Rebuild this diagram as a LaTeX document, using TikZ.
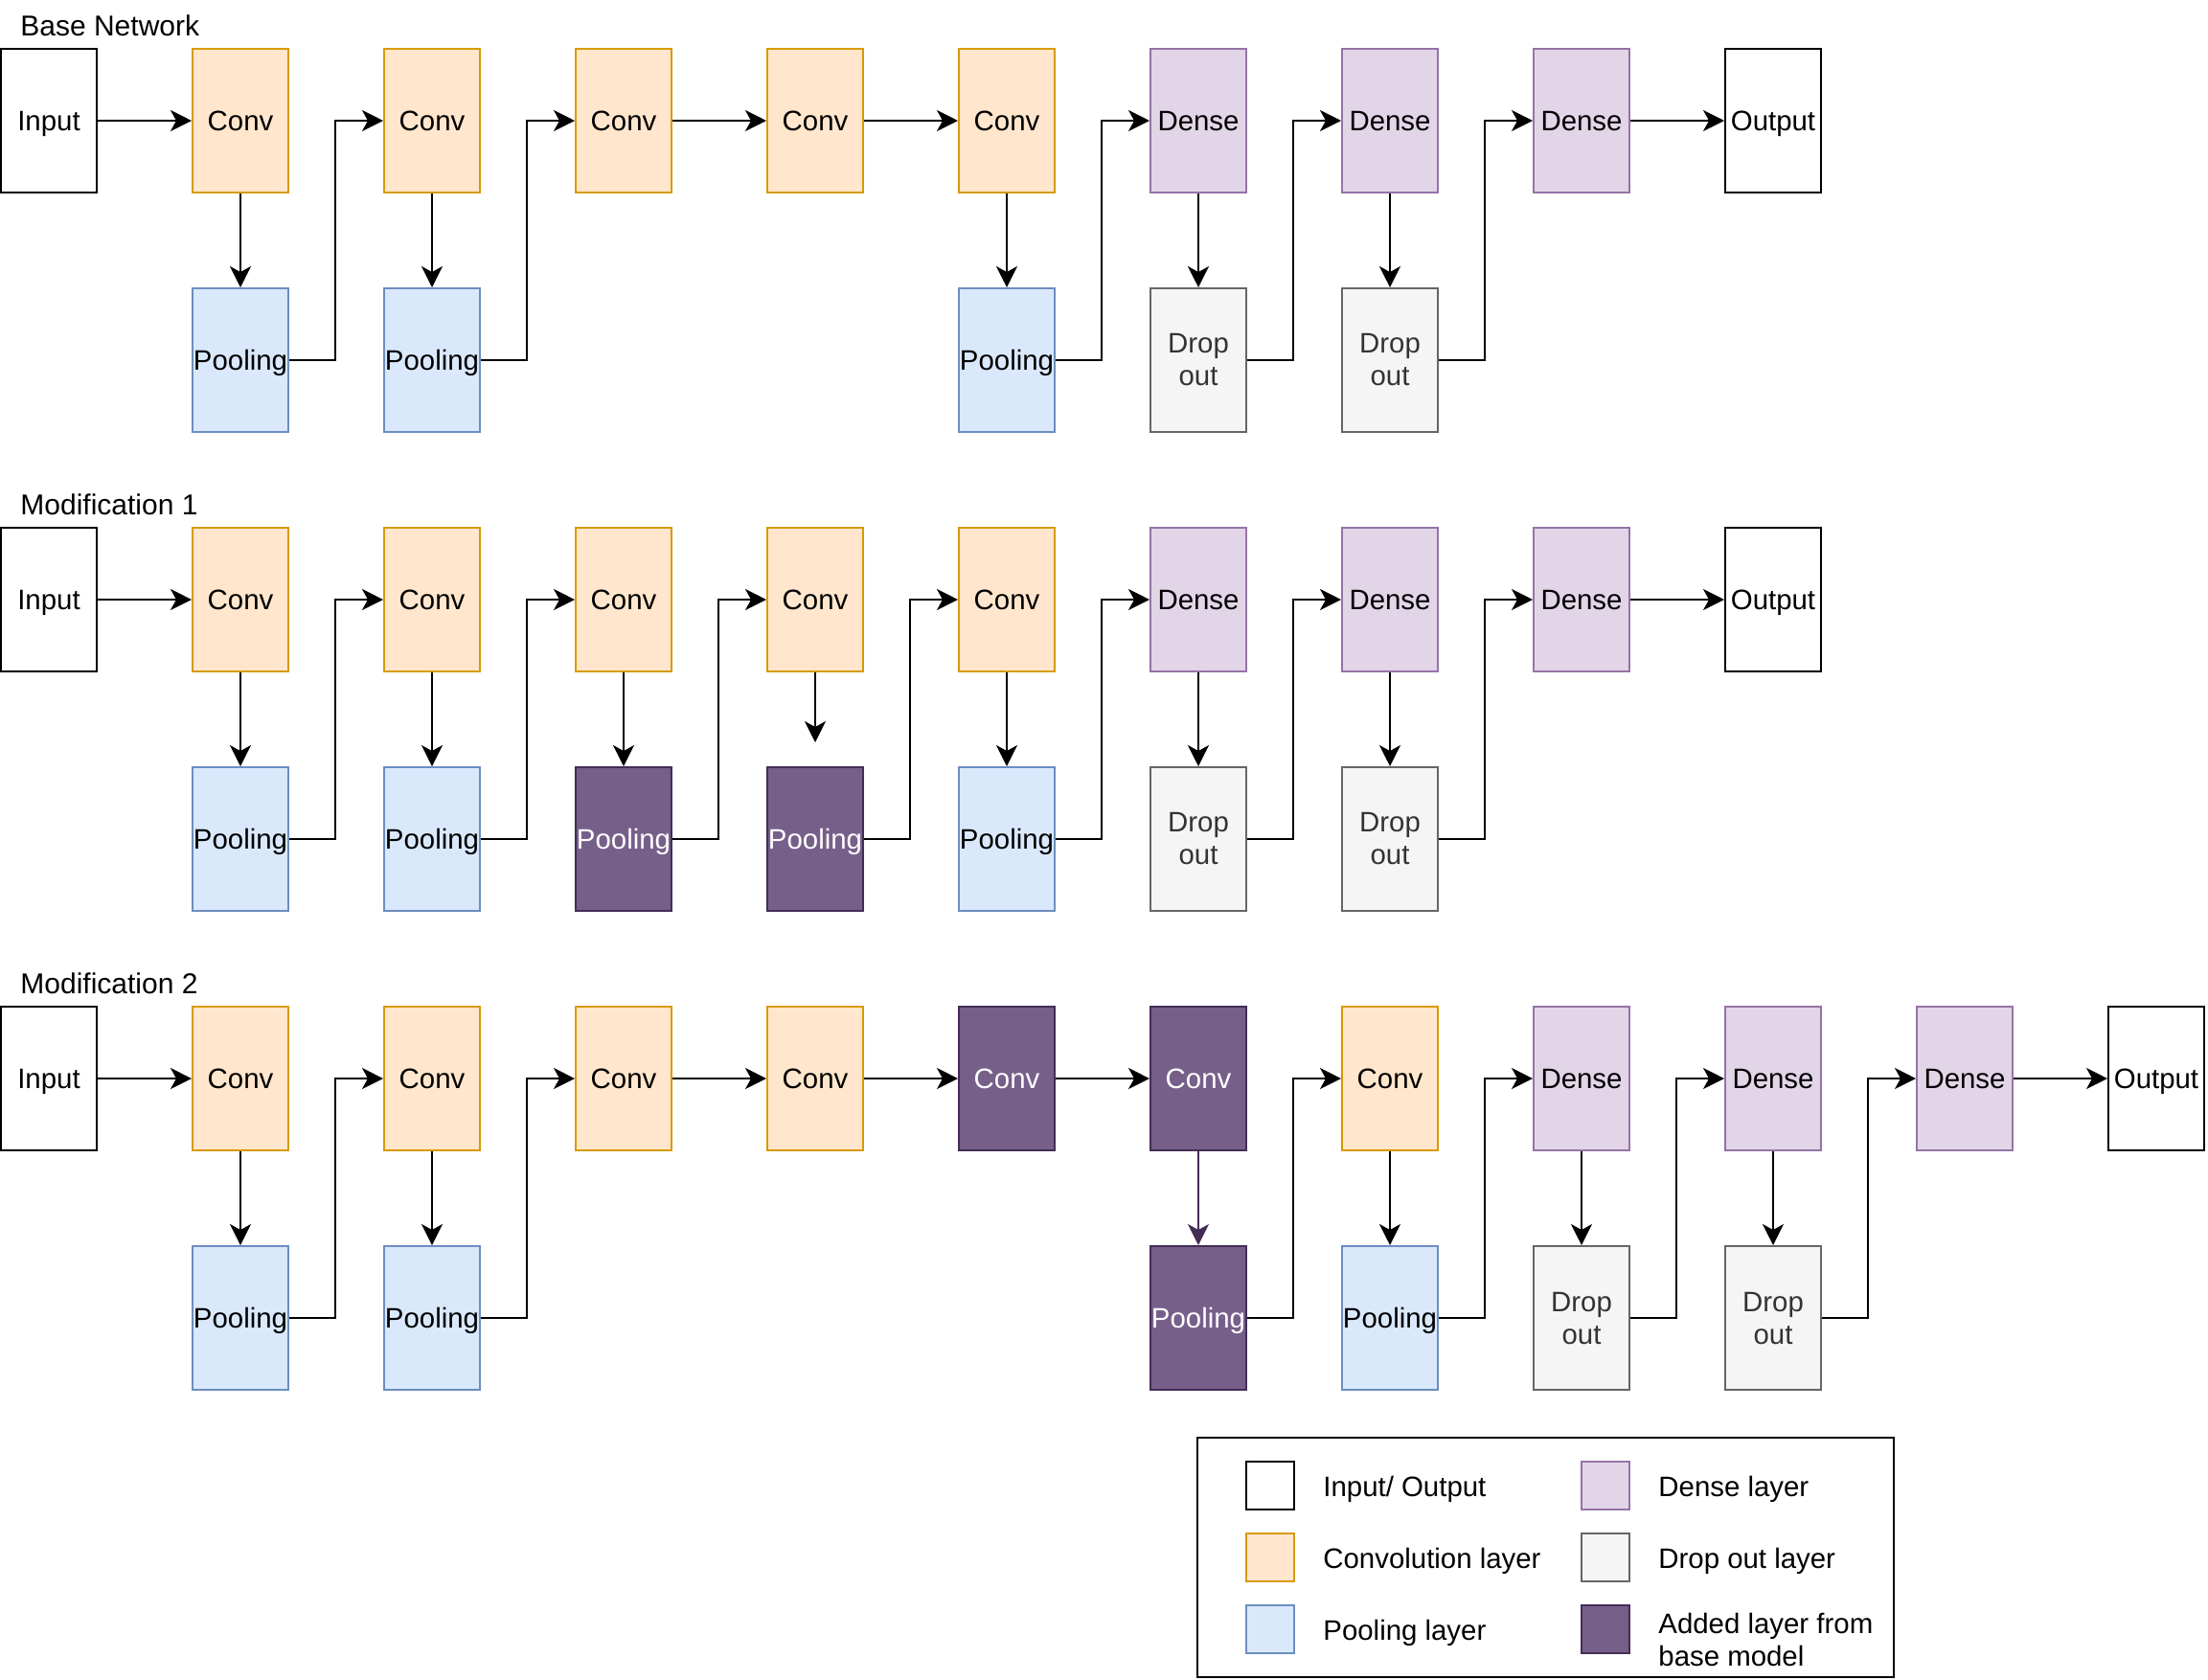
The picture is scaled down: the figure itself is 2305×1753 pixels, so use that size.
\documentclass[tikz,border=0pt]{standalone}
\usepackage{fontspec}
\setmainfont{Liberation Sans}
\usetikzlibrary{arrows.meta}
\definecolor{convF}{HTML}{FFE6CC}\definecolor{convD}{HTML}{D79B00}
\definecolor{poolF}{HTML}{DAE8FC}\definecolor{poolD}{HTML}{6C8EBF}
\definecolor{denseF}{HTML}{E1D5E7}\definecolor{denseD}{HTML}{9673A6}
\definecolor{dropF}{HTML}{F5F5F5}\definecolor{dropD}{HTML}{666666}\definecolor{dropT}{HTML}{333333}
\definecolor{addF}{HTML}{76608A}\definecolor{addD}{HTML}{432D57}
\tikzset{
  lbl/.style={font=\fontsize{14.7}{17}\selectfont},
  box/.style={draw, line width=1pt, minimum width=50pt, minimum height=75pt, inner sep=0pt, lbl, align=center},
  one/.style={text height=10.5pt, text depth=0pt},
  io/.style={box, one, draw=black, fill=white},
  conv/.style={box, one, draw=convD, fill=convF},
  pool/.style={box, one, draw=poolD, fill=poolF},
  dense/.style={box, one, draw=denseD, fill=denseF},
  drop/.style={box, draw=dropD, fill=dropF, text=dropT},
  added/.style={box, one, draw=addD, fill=addF, text=white},
  swatch/.style={draw, line width=1pt, minimum width=25pt, minimum height=25pt, inner sep=0pt},
  legtext/.style={lbl, anchor=west, inner sep=0pt, align=left},
  title/.style={font=\fontsize{15}{18}\selectfont, anchor=base west, inner sep=0pt},
  arr/.style={draw, line width=1pt, -{Stealth[length=11pt,width=11pt,inset=3pt]}},
}
\begin{document}
\begin{tikzpicture}[x=0.5pt,y=-0.5pt]
\path[fill=white] (0,0) rectangle (2305,1753);
\useasboundingbox (0,0) rectangle (2305,1753);

% ---------- Base network ----------
\node[title] (t1) at (21,37) {Base Network};
\node[io] (bI) at (51,126) {Input};
\node[conv] (bC1) at (251,126) {Conv};
\node[pool] (bP1) at (251,376) {Pooling};
\node[conv] (bC2) at (451,126) {Conv};
\node[pool] (bP2) at (451,376) {Pooling};
\node[conv] (bC3) at (651,126) {Conv};
\node[conv] (bC4) at (851,126) {Conv};
\node[conv] (bC5) at (1051,126) {Conv};
\node[pool] (bP5) at (1051,376) {Pooling};
\node[dense] (bD6) at (1251,126) {Dense};
\node[drop] (bO6) at (1251,376) {Drop\\out};
\node[dense] (bD7) at (1451,126) {Dense};
\node[drop] (bO7) at (1451,376) {Drop\\out};
\node[dense] (bD8) at (1651,126) {Dense};
\node[io] (bOut) at (1851,126) {Output};

\draw[arr] (bI.east) -- (bC1.west);
\draw[arr] (bC1.south) -- (bP1.north);
\draw[arr] (bP1.east) -| ([xshift=-25pt]bC2.west) -- (bC2.west);
\draw[arr] (bC2.south) -- (bP2.north);
\draw[arr] (bP2.east) -| ([xshift=-25pt]bC3.west) -- (bC3.west);
\draw[arr] (bC3.east) -- (bC4.west);
\draw[arr] (bC4.east) -- (bC5.west);
\draw[arr] (bC5.south) -- (bP5.north);
\draw[arr] (bP5.east) -| ([xshift=-25pt]bD6.west) -- (bD6.west);
\draw[arr] (bD6.south) -- (bO6.north);
\draw[arr] (bO6.east) -| ([xshift=-25pt]bD7.west) -- (bD7.west);
\draw[arr] (bD7.south) -- (bO7.north);
\draw[arr] (bO7.east) -| ([xshift=-25pt]bD8.west) -- (bD8.west);
\draw[arr] (bD8.east) -- (bOut.west);

% ---------- Modification 1 ----------
\node[title] (t2) at (21,537) {Modification 1};
\node[io] (mI) at (51,626) {Input};
\node[conv] (mC1) at (251,626) {Conv};
\node[pool] (mP1) at (251,876) {Pooling};
\node[conv] (mC2) at (451,626) {Conv};
\node[pool] (mP2) at (451,876) {Pooling};
\node[conv] (mC3) at (651,626) {Conv};
\node[added] (mP3) at (651,876) {Pooling};
\node[conv] (mC4) at (851,626) {Conv};
\node[added] (mP4) at (851,876) {Pooling};
\node[conv] (mC5) at (1051,626) {Conv};
\node[pool] (mP5) at (1051,876) {Pooling};
\node[dense] (mD6) at (1251,626) {Dense};
\node[drop] (mO6) at (1251,876) {Drop\\out};
\node[dense] (mD7) at (1451,626) {Dense};
\node[drop] (mO7) at (1451,876) {Drop\\out};
\node[dense] (mD8) at (1651,626) {Dense};
\node[io] (mOut) at (1851,626) {Output};
\coordinate (mGap) at ([yshift=12.5pt]mP4.north);

\draw[arr] (mI.east) -- (mC1.west);
\draw[arr] (mC1.south) -- (mP1.north);
\draw[arr] (mP1.east) -| ([xshift=-25pt]mC2.west) -- (mC2.west);
\draw[arr] (mC2.south) -- (mP2.north);
\draw[arr] (mP2.east) -| ([xshift=-25pt]mC3.west) -- (mC3.west);
\draw[arr] (mC3.south) -- (mP3.north);
\draw[arr] (mP3.east) -| ([xshift=-25pt]mC4.west) -- (mC4.west);
\draw[arr] (mC4.south) -- (mGap);
\draw[arr] (mP4.east) -| ([xshift=-25pt]mC5.west) -- (mC5.west);
\draw[arr] (mC5.south) -- (mP5.north);
\draw[arr] (mP5.east) -| ([xshift=-25pt]mD6.west) -- (mD6.west);
\draw[arr] (mD6.south) -- (mO6.north);
\draw[arr] (mO6.east) -| ([xshift=-25pt]mD7.west) -- (mD7.west);
\draw[arr] (mD7.south) -- (mO7.north);
\draw[arr] (mO7.east) -| ([xshift=-25pt]mD8.west) -- (mD8.west);
\draw[arr] (mD8.east) -- (mOut.west);

% ---------- Modification 2 ----------
\node[title] (t3) at (21,1037) {Modification 2};
\node[io] (nI) at (51,1126) {Input};
\node[conv] (nC1) at (251,1126) {Conv};
\node[pool] (nP1) at (251,1376) {Pooling};
\node[conv] (nC2) at (451,1126) {Conv};
\node[pool] (nP2) at (451,1376) {Pooling};
\node[conv] (nC3) at (651,1126) {Conv};
\node[conv] (nC4) at (851,1126) {Conv};
\node[added] (nC5) at (1051,1126) {Conv};
\node[added] (nC6) at (1251,1126) {Conv};
\node[added] (nP6) at (1251,1376) {Pooling};
\node[conv] (nC7) at (1451,1126) {Conv};
\node[pool] (nP7) at (1451,1376) {Pooling};
\node[dense] (nD8) at (1651,1126) {Dense};
\node[drop] (nO8) at (1651,1376) {Drop\\out};
\node[dense] (nD9) at (1851,1126) {Dense};
\node[drop] (nO9) at (1851,1376) {Drop\\out};
\node[dense] (nD10) at (2051,1126) {Dense};
\node[io] (nOut) at (2251,1126) {Output};

\draw[arr] (nI.east) -- (nC1.west);
\draw[arr] (nC1.south) -- (nP1.north);
\draw[arr] (nP1.east) -| ([xshift=-25pt]nC2.west) -- (nC2.west);
\draw[arr] (nC2.south) -- (nP2.north);
\draw[arr] (nP2.east) -| ([xshift=-25pt]nC3.west) -- (nC3.west);
\draw[arr] (nC3.east) -- (nC4.west);
\draw[arr] (nC4.east) -- (nC5.west);
\draw[arr] (nC5.east) -- (nC6.west);
\draw[arr, draw=addD, fill=addD] (nC6.south) -- (nP6.north);
\draw[arr] (nP6.east) -| ([xshift=-25pt]nC7.west) -- (nC7.west);
\draw[arr] (nC7.south) -- (nP7.north);
\draw[arr] (nP7.east) -| ([xshift=-25pt]nD8.west) -- (nD8.west);
\draw[arr] (nD8.south) -- (nO8.north);
\draw[arr] (nO8.east) -| ([xshift=-25pt]nD9.west) -- (nD9.west);
\draw[arr] (nD9.south) -- (nO9.north);
\draw[arr] (nO9.east) -| ([xshift=-25pt]nD10.west) -- (nD10.west);
\draw[arr] (nD10.east) -- (nOut.west);

% ---------- Legend ----------
\node[draw, line width=1pt, minimum width=363.5pt, minimum height=125pt, inner sep=0pt] (legend) at (1613.5,1626) {};
\node[swatch, draw=black, fill=white] (s1) at (1326,1551) {};
\node[swatch, draw=convD, fill=convF] (s2) at (1326,1626) {};
\node[swatch, draw=poolD, fill=poolF] (s3) at (1326,1701) {};
\node[swatch, draw=denseD, fill=denseF] (s4) at (1676,1551) {};
\node[swatch, draw=dropD, fill=dropF] (s5) at (1676,1626) {};
\node[swatch, draw=addD, fill=addF] (s6) at (1676,1701) {};
\node[legtext, one] (l1) at (1381,1552) {Input/ Output};
\node[legtext, one] (l2) at (1381,1627) {Convolution layer};
\node[legtext, one] (l3) at (1381,1702) {Pooling layer};
\node[legtext, one] (l4) at (1731,1552) {Dense layer};
\node[legtext, one] (l5) at (1731,1627) {Drop out layer};
\node[legtext] (l6) at (1731,1712) {Added layer from\\base model};
\end{tikzpicture}
\end{document}
